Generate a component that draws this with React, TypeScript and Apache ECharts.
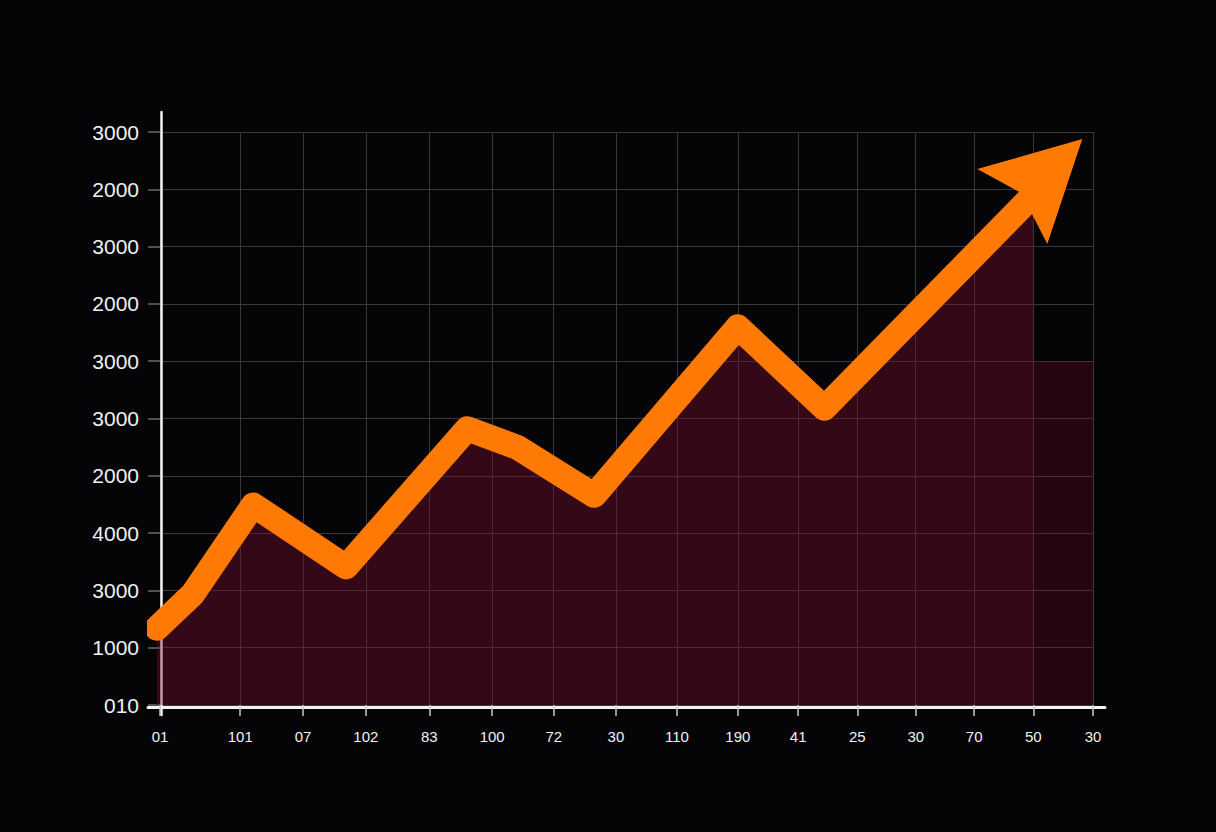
import { useEffect, useRef } from "react";
import * as echarts from "echarts";

// Tick labels as printed on the reference
const yTickLabels = ["010", "1000", "3000", "4000", "2000", "3000", "3000", "2000", "3000", "2000", "3000"];
const xTickLabels = ["01", "101", "07", "102", "83", "100", "72", "30", "110", "190", "41", "25", "30", "70", "50", "30"];
// Positions of the x ticks along the value axis (they are not evenly spaced)
const xTickValues = [0, 1.29, 2.3, 3.31, 4.33, 5.34, 6.33, 7.33, 8.31, 9.29, 10.26, 11.21, 12.15, 13.09, 14.04, 15];

// Orange trend line
const lineX = [-0.05, 0.53, 1.5, 2.99, 4.94, 5.74, 6.98, 9.29, 10.68, 14.04];
const lineY = [1.34, 1.94, 3.49, 2.41, 4.82, 4.5, 3.66, 6.6, 5.18, 8.9];

// Darker block at the right end
const tailX = [14.04, 15];
const tailY = [6, 6];

const ORANGE = "#ff7a05";

export default function App() {
  const ref = useRef<HTMLDivElement>(null);

  useEffect(() => {
    if (!ref.current) return;
    const chart = echarts.init(ref.current, null, { renderer: "svg" });

    const lineData = lineX.map((x, i) => [x, lineY[i]]);
    const tailData = tailX.map((x, i) => [x, tailY[i]]);
    const last = lineData[lineData.length - 1];

    const xFormatter = (value: number) => {
      const i = xTickValues.findIndex((v) => Math.abs(v - value) < 0.005);
      return i >= 0 ? xTickLabels[i] : "";
    };

    chart.setOption({
      animation: false,
      backgroundColor: "#050407",
      grid: [
        { left: 160, top: 132, width: 933, height: 573 },
        { left: 148, top: 112, width: 957, height: 603 },
      ],
      xAxis: [
        {
          type: "value",
          gridIndex: 0,
          min: 0,
          max: 15,
          axisLine: { show: false },
          axisTick: {
            show: true,
            customValues: xTickValues,
            length: 11,
            lineStyle: { color: "#c8c8c8", width: 1.5 },
          },
          axisLabel: {
            customValues: xTickValues,
            formatter: xFormatter,
            color: "#f0f0f0",
            fontSize: 15,
            fontFamily: "Liberation Sans",
            margin: 24,
          },
          splitLine: { show: true, lineStyle: { color: "#38383d", width: 1 } },
        },
        {
          type: "value",
          gridIndex: 1,
          min: 0,
          max: 1,
          offset: -8,
          axisLine: { show: true, lineStyle: { color: "#f2f2f2", width: 3 } },
          axisTick: { show: false },
          axisLabel: { show: false },
          splitLine: { show: false },
        },
      ],
      yAxis: [
        {
          type: "value",
          gridIndex: 0,
          min: 0,
          max: 10,
          interval: 1,
          axisLine: { show: false },
          axisTick: { show: true, length: 12, lineStyle: { color: "#6a6a6e", width: 1.5 } },
          axisLabel: {
            formatter: (v: number) => yTickLabels[Math.round(v)] ?? "",
            color: "#f0f0f0",
            fontSize: 21,
            fontFamily: "Liberation Sans",
            margin: 21,
          },
          splitLine: { show: true, lineStyle: { color: "#38383d", width: 1 } },
        },
        {
          type: "value",
          gridIndex: 1,
          min: 0,
          max: 1,
          offset: -13,
          axisLine: { show: true, lineStyle: { color: "#f2f2f2", width: 2.5 } },
          axisTick: { show: false },
          axisLabel: { show: false },
          splitLine: { show: false },
        },
      ],
      series: [
        {
          type: "line",
          xAxisIndex: 0,
          yAxisIndex: 0,
          data: tailData,
          symbol: "none",
          lineStyle: { width: 0, opacity: 0 },
          areaStyle: { color: "rgba(125,15,50,0.26)", opacity: 1 },
          z: 1,
        },
        {
          type: "line",
          xAxisIndex: 0,
          yAxisIndex: 0,
          data: lineData,
          symbol: "none",
          clip: false,
          lineStyle: { color: ORANGE, width: 25, cap: "round", join: "round" },
          areaStyle: { color: "rgba(125,15,50,0.4)", opacity: 1 },
          z: 3,
        },
        {
          type: "scatter",
          xAxisIndex: 0,
          yAxisIndex: 0,
          data: [last],
          symbol: "path://M105 0 L0 30 L44 54 L70 105 Z",
          symbolSize: [105, 105],
          symbolKeepAspect: true,
          symbolOffset: [-3.5, -3.5],
          clip: false,
          itemStyle: { color: ORANGE, opacity: 1 },
          z: 4,
        },
      ],
    });

    return () => chart.dispose();
  }, []);

  return (
    <div
      ref={ref}
      style={{ position: "fixed", left: 0, top: 0, width: 1216, height: 832 }}
    />
  );
}
